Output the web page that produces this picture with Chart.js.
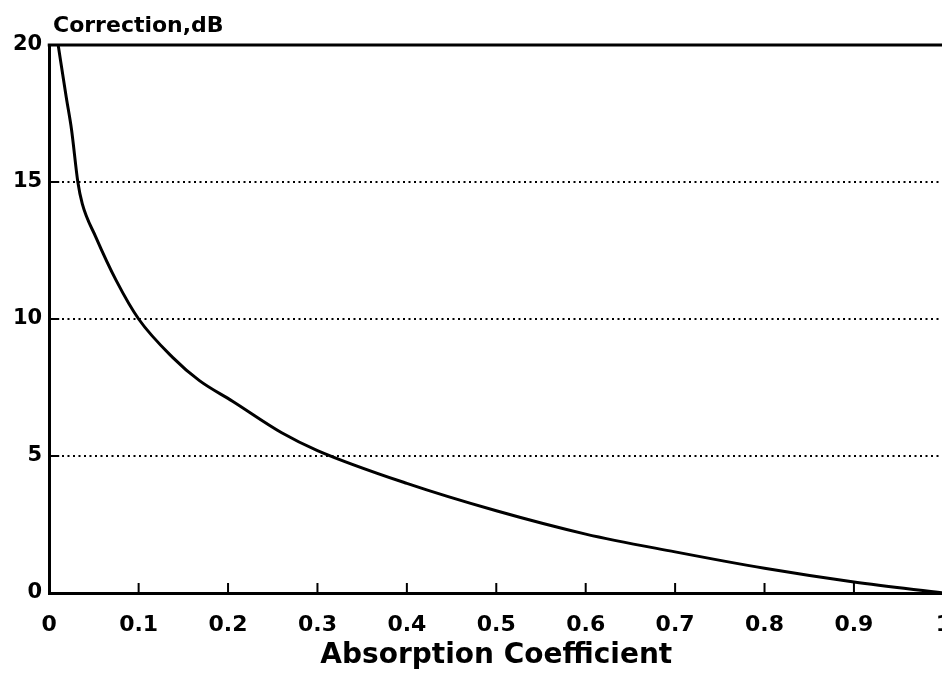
<!DOCTYPE html>
<html>
<head>
<meta charset="utf-8">
<title>Correction vs Absorption Coefficient</title>
<script src="https://cdn.jsdelivr.net/npm/chart.js@4.4.1/dist/chart.umd.min.js"></script>
<style>
  html, body { margin: 0; padding: 0; background: #fff; overflow: hidden; }
  #wrap { width: 970px; height: 679px; }
</style>
</head>
<body>
<div id="wrap"><canvas id="chart"></canvas></div>
<script>
// values
const absorption = [0.01, 0.019, 0.025, 0.032, 0.037, 0.052, 0.075, 0.1, 0.138, 0.168, 0.205, 0.26, 0.3, 0.4, 0.5, 0.6, 0.7, 0.8, 0.9, 1.0];
const correctionDb = [20, 18.1, 16.9, 15, 14.2, 13, 11.4, 10, 8.6, 7.75, 7.0, 5.85, 5.2, 4.0, 3.0, 2.15, 1.5, 0.9, 0.4, 0];

const xTickLabels = ['0', '0.1', '0.2', '0.3', '0.4', '0.5', '0.6', '0.7', '0.8', '0.9', '1'];
const yTickLabels = ['0', '5', '10', '15', '20'];

const yTitle = 'Correction,dB';
const xTitle = 'Absorption Coefficient';

Chart.defaults.font.family = '"DejaVu Sans", sans-serif';
Chart.defaults.font.weight = 'bold';
Chart.defaults.color = '#000';

// top frame line, inward tick marks and the corner title
const framePlugin = {
  id: 'frame',
  afterDraw(chart) {
    const { ctx, chartArea, scales } = chart;
    const x = scales.x, y = scales.y;
    ctx.save();
    ctx.strokeStyle = '#000';
    ctx.lineWidth = 3;
    ctx.beginPath();
    ctx.moveTo(chartArea.left - 1.5, y.getPixelForValue(20));
    ctx.lineTo(chartArea.right + 20, y.getPixelForValue(20));
    ctx.stroke();

    ctx.lineWidth = 2;
    ctx.beginPath();
    x.ticks.forEach(t => {
      if (t.value <= 0) return;
      const px = x.getPixelForValue(t.value);
      ctx.moveTo(px, chartArea.bottom);
      ctx.lineTo(px, chartArea.bottom - 10);
    });
    y.ticks.forEach(t => {
      if (t.value <= 0 || t.value >= 20) return;
      const py = y.getPixelForValue(t.value);
      ctx.moveTo(chartArea.left, py);
      ctx.lineTo(chartArea.left + 10, py);
    });
    ctx.stroke();

    ctx.fillStyle = '#000';
    ctx.font = 'bold 22px "DejaVu Sans"';
    ctx.textBaseline = 'alphabetic';
    ctx.textAlign = 'left';
    ctx.fillText(yTitle, 53, 32);
    ctx.restore();
  }
};

new Chart(document.getElementById('chart'), {
  type: 'line',
  data: {
    datasets: [{
      data: absorption.map((a, i) => ({ x: a, y: correctionDb[i] })),
      borderColor: '#000',
      borderWidth: 3,
      pointRadius: 0,
      fill: false,
      cubicInterpolationMode: 'monotone'
    }]
  },
  options: {
    responsive: true,
    maintainAspectRatio: false,
    animation: false,
    layout: { padding: { left: 6, right: 9, top: 45, bottom: 6 } },
    plugins: { legend: { display: false }, tooltip: { enabled: false } },
    scales: {
      x: {
        type: 'linear',
        min: 0,
        max: 1,
        grid: { display: false, drawTicks: false },
        border: { display: true, color: '#000', width: 3 },
        ticks: {
          stepSize: 0.1,
          autoSkip: false,
          maxRotation: 0,
          padding: 19,
          font: { size: 22, weight: 'bold' },
          callback: (v, i) => xTickLabels[i]
        },
        title: {
          display: true,
          text: xTitle,
          font: { size: 28, weight: 'bold' },
          padding: { top: -18, bottom: 0 }
        }
      },
      y: {
        min: 0,
        max: 20,
        grid: {
          drawTicks: false,
          lineWidth: 2,
          color: c => (c.tick && c.tick.value > 0 && c.tick.value < 20) ? '#000' : 'rgba(0,0,0,0)'
        },
        border: { display: true, color: '#000', width: 3, dash: [2, 3.5] },
        ticks: {
          stepSize: 5,
          padding: 7,
          font: { size: 21, weight: 'bold' },
          callback: (v, i) => yTickLabels[i]
        }
      }
    }
  },
  plugins: [framePlugin]
});
</script>
</body>
</html>
